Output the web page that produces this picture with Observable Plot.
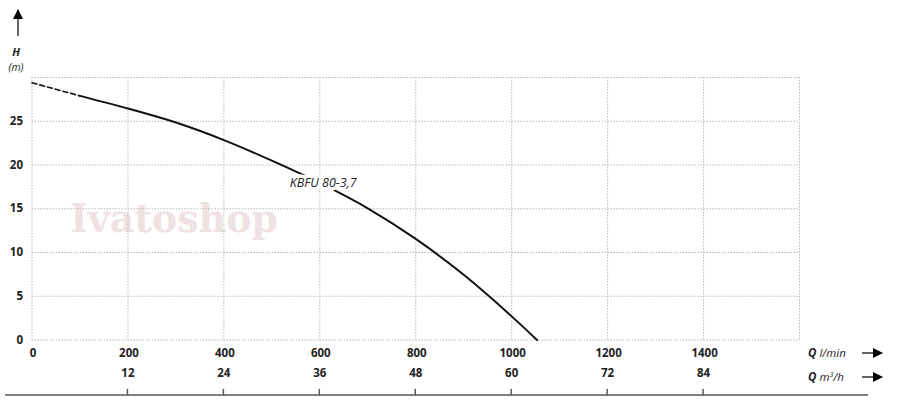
<!DOCTYPE html>
<html>
<head>
<meta charset="utf-8">
<script src="https://cdn.jsdelivr.net/npm/d3@7"></script>
<script src="https://cdn.jsdelivr.net/npm/@observablehq/plot@0.6"></script>
<style>
  html, body { margin: 0; padding: 0; background: #fff; }
  #chart svg { display: block; }
</style>
</head>
<body>
<div id="chart"></div>
<script>
// ---- data ----
const flowLmin = [0, 100, 200, 300, 400, 500, 600, 700, 800, 900, 1000, 1053];
const headM    = [29.4, 27.9, 26.45, 24.85, 22.85, 20.5, 17.95, 15.05, 11.55, 7.45, 2.7, 0];
const dashedUntil = 100;              // extrapolated (dashed) part of the curve
const curveLabel = "KBFU 80-3,7";
const labelAt = {q: 607, h: 17.9};
const lminTicks = [0, 200, 400, 600, 800, 1000, 1200, 1400];
const m3hTickPos = [200, 400, 600, 800, 1000, 1200, 1400];
const m3hLabels = ["12", "24", "36", "48", "60", "72", "84"];
const headTicks = [0, 5, 10, 15, 20, 25];
const gridQ = [0, 200, 400, 600, 800, 1000, 1200, 1400, 1600];
const gridH = [0, 5, 10, 15, 20, 25, 30];

const pts = flowLmin.map((q, i) => ({q, h: headM[i]}));
const dashed = pts.filter(d => d.q <= dashedUntil);
const solid = pts.filter(d => d.q >= dashedUntil);

const FONT = "'Open Sans', 'Noto Sans', sans-serif";

const plot = Plot.plot({
  width: 900,
  height: 410,
  marginLeft: 31.5,
  marginRight: 101,
  marginTop: 77,
  marginBottom: 70.5,
  style: {fontFamily: FONT, fontSize: "11.5px", color: "#222", background: "#fff"},
  x: {domain: [0, 1600]},
  y: {domain: [0, 30]},
  marks: [
    Plot.gridX(gridQ, {stroke: "#b8b8b8", strokeOpacity: 1, strokeDasharray: "1.5,1.5"}),
    Plot.gridY(gridH, {stroke: "#b8b8b8", strokeOpacity: 1, strokeDasharray: "1.5,1.5"}),
    Plot.axisY({ticks: headTicks, tickSize: 0, tickPadding: 9, label: null, fontWeight: "bold", fill: "#222"}),
    Plot.axisX({ticks: lminTicks, tickSize: 0, tickPadding: 9, label: null, fontWeight: "bold", fill: "#222", dx: 1, tickFormat: d => String(d)}),
    Plot.text(m3hTickPos, {x: d => d, frameAnchor: "bottom", dy: 37, text: (d, i) => m3hLabels[i], fontWeight: "bold", fill: "#222"}),
    Plot.line(dashed, {x: "q", y: "h", stroke: "#111", strokeWidth: 1.6, strokeDasharray: "5,3", curve: "monotone-x"}),
    Plot.line(solid, {x: "q", y: "h", stroke: "#111", strokeWidth: 2, curve: "monotone-x"}),
    Plot.text([labelAt], {x: "q", y: "h", text: () => curveLabel, fontStyle: "italic", fontSize: 12.5, fill: "#222", stroke: "white", strokeWidth: 7, paintOrder: "stroke"})
  ]
});

document.getElementById("chart").appendChild(plot);

// ---- decorations using the plot's own scales ----
const svg = d3.select(plot);
const xs = plot.scale("x");
const X = v => xs.apply(v);

// watermark
svg.insert("text", "g")
  .attr("x", 70).attr("y", 232)
  .attr("text-anchor", "start")
  .attr("textLength", 208).attr("lengthAdjust", "spacingAndGlyphs")
  .attr("font-family", "'DejaVu Serif', 'Liberation Serif', serif")
  .attr("font-weight", "bold").attr("font-size", 40)
  .attr("fill", "#f0e2e2")
  .text("Ivatoshop");

// bottom axis line with ticks
const lineY = 395;
svg.append("line").attr("x1", 5).attr("x2", 868).attr("y1", lineY).attr("y2", lineY)
  .attr("stroke", "#555").attr("stroke-width", 1.5);
m3hTickPos.forEach(q => {
  svg.append("line").attr("x1", X(q)).attr("x2", X(q)).attr("y1", lineY - 6).attr("y2", lineY)
    .attr("stroke", "#555").attr("stroke-width", 1.5);
});

// arrow marker
const defs = svg.append("defs");
defs.append("marker").attr("id", "ah").attr("viewBox", "0 0 10 10").attr("refX", 9).attr("refY", 5)
  .attr("markerWidth", 10).attr("markerHeight", 10).attr("markerUnits", "userSpaceOnUse").attr("orient", "auto")
  .append("path").attr("d", "M0,0 L10,5 L0,10 Z").attr("fill", "#000");

// y arrow
svg.append("line").attr("x1", 18).attr("x2", 18).attr("y1", 36).attr("y2", 10)
  .attr("stroke", "#000").attr("stroke-width", 1.2).attr("marker-end", "url(#ah)");
// H (m)
svg.append("text").attr("x", 16).attr("y", 56).attr("text-anchor", "middle")
  .attr("font-family", FONT).attr("font-size", 11).attr("font-weight", "bold").attr("font-style", "italic").attr("fill", "#222").text("H");
svg.append("text").attr("x", 16).attr("y", 71).attr("text-anchor", "middle")
  .attr("font-family", FONT).attr("font-size", 10.5).attr("font-style", "italic").attr("fill", "#222").text("(m)");

// Q labels and arrows
function qLabel(y, unit, sup) {
  const t = svg.append("text").attr("x", 808).attr("y", y).attr("text-anchor", "start")
    .attr("font-family", FONT).attr("font-size", 11.5).attr("fill", "#222");
  t.append("tspan").attr("font-weight", "bold").attr("font-style", "italic").text("Q ");
  t.append("tspan").attr("font-style", "italic").text(unit);
  if (sup) {
    t.append("tspan").attr("font-style", "italic").attr("font-size", 7).attr("dy", -4).text(sup);
    t.append("tspan").attr("font-style", "italic").attr("dy", 4).text("/h");
  }
  svg.append("line").attr("x1", 862).attr("x2", 882).attr("y1", y - 4).attr("y2", y - 4)
    .attr("stroke", "#000").attr("stroke-width", 1.2).attr("marker-end", "url(#ah)");
}
qLabel(357, "l/min");
qLabel(381, "m", "3");
</script>
</body>
</html>
